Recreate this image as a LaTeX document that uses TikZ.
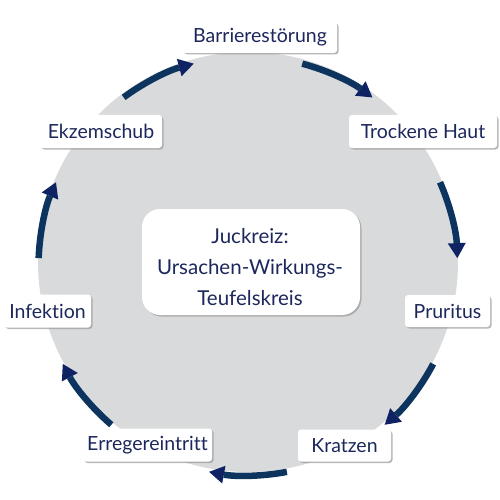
\documentclass[tikz,border=0pt]{standalone}
\usepackage{fontspec}
\setmainfont{Lato}[Ligatures=NoCommon]
\usetikzlibrary{arrows.meta,shadows}
\definecolor{circ}{RGB}{217,218,219}
\definecolor{txt}{RGB}{28,40,92}
\definecolor{arr}{RGB}{12,52,94}
\definecolor{arrhead}{RGB}{14,34,100}
\tikzset{
 lbl/.style={fill=white, rounded corners=3pt, inner sep=0pt, text=txt,
   font=\fontsize{19.5}{23}\selectfont,
   drop shadow={shadow xshift=1.5pt, shadow yshift=-1.5pt, fill=black!40, opacity=0.7}},
 ctrtxt/.style={text=txt, align=center, inner sep=0pt, font=\fontsize{20.5}{31}\selectfont},
 cyc/.style={draw=arr, line width=6.5pt,
   -{Triangle[width=18pt,length=15pt,line width=0pt,fill=arrhead,color=arrhead]}},
}
\begin{document}
\begin{tikzpicture}[x=1pt,y=-1pt]
\useasboundingbox (0,0) rectangle (500,500);
\fill[white] (0,0) rectangle (500,500);
\fill[circ] (248,262) circle[radius=210];
\coordinate (c) at (248,266);
\foreach \k in {0,...,6} {
  \pgfmathsetmacro\cA{-90+\k*360/7}
  \draw[cyc] ([shift={({-(\cA+10.7)}:209.5)}]c) arc[start angle={-(\cA+10.7)}, end angle={-(\cA-10.7)}, radius=209.5];
}
\node[lbl, minimum width=154, minimum height=31] (barr) at (260,37.5) {Barrierestörung};
\node[lbl, minimum width=148, minimum height=33] (trock) at (423,131.5) {Trockene Haut};
\node[lbl, minimum width=85, minimum height=32] (prur) at (447.5,311) {Pruritus};
\node[lbl, minimum width=93, minimum height=32] (kratz) at (344.5,445.5) {Kratzen};
\node[lbl, minimum width=129, minimum height=33] (erreg) at (147.5,445) {Erregereintritt};
\node[lbl, minimum width=87, minimum height=33] (infek) at (47.5,311) {Infektion};
\node[lbl, minimum width=122, minimum height=33] (ekz) at (101,131.5) {Ekzemschub};
\node[lbl, rounded corners=18pt, minimum width=218, minimum height=106] (ctr) at (251,262) {};
\node[ctrtxt] (ctrt) at (250,267) {Juckreiz:\\Ursachen-Wirkungs-\\Teufelskreis};
\end{tikzpicture}
\end{document}
